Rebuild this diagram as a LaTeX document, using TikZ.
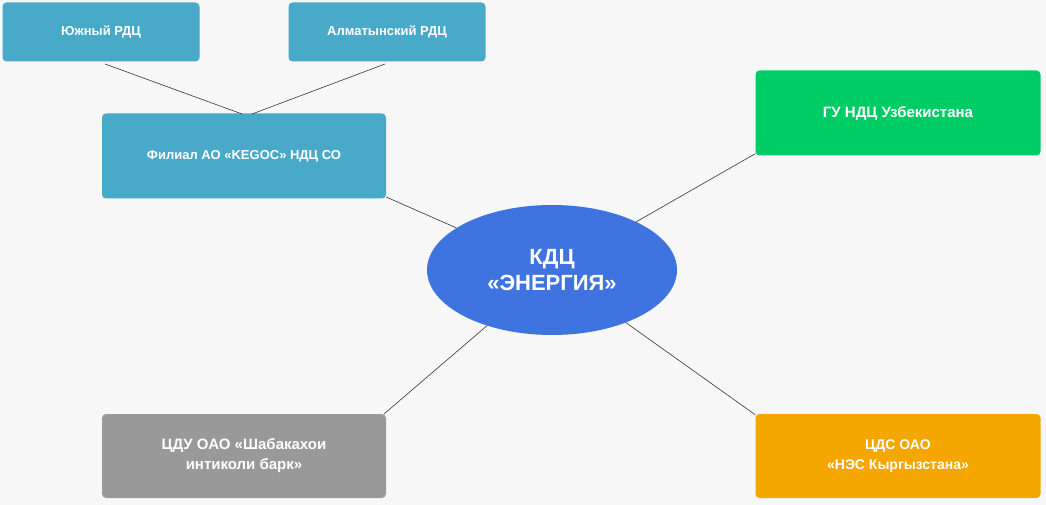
\documentclass[tikz,border=0pt]{standalone}
\usepackage{fontspec}
\setmainfont{Liberation Sans}
\usetikzlibrary{shapes.geometric}
\definecolor{teal}{HTML}{48AAC8}
\definecolor{grn}{HTML}{00CC66}
\definecolor{blu}{HTML}{3F74E0}
\definecolor{gry}{HTML}{999999}
\definecolor{org}{HTML}{F5A700}
\begin{document}
\begin{tikzpicture}[x=1pt,y=-1pt,
box/.style={rounded corners=4pt,draw=none,text=white,font=\bfseries\fontsize{13}{16}\selectfont,align=center,inner sep=0pt},
ln/.style={draw=black!80,line width=0.6pt}]
\fill[white!97!black] (0,0) rectangle (1046,505);
\useasboundingbox (0,0) rectangle (1046,505);
\node[box,fill=teal,minimum width=197pt,minimum height=59pt] (a) at (101,32) {Южный РДЦ};
\node[box,fill=teal,minimum width=197pt,minimum height=59pt] (b) at (387,32) {Алматынский РДЦ};
\node[box,fill=teal,minimum width=284pt,minimum height=85pt] (f) at (244,156) {Филиал АО «KEGOC» НДЦ СО};
\node[ellipse,fill=blu,text=white,font=\bfseries\fontsize{22}{26}\selectfont,align=center,minimum width=250pt,minimum height=130pt,inner sep=0pt] (c) at (552,270) {КДЦ\\«ЭНЕРГИЯ»};
\node[box,fill=grn,minimum width=285pt,minimum height=85pt,font=\bfseries\fontsize{15}{18}\selectfont] (u) at (898,113) {ГУ НДЦ Узбекистана};
\node[box,fill=gry,minimum width=284pt,minimum height=84pt,font=\bfseries\fontsize{15}{20}\selectfont] (t) at (244,456) {ЦДУ ОАО «Шабакахои\\интиколи барк»};
\node[box,fill=org,minimum width=285pt,minimum height=84pt,font=\bfseries\fontsize{14}{20}\selectfont] (k) at (898,456) {ЦДС ОАО\\«НЭС Кыргызстана»};
\coordinate (a1) at (105,64); \coordinate (a2) at (242,114);
\coordinate (b1) at (385,64); \coordinate (b2) at (252,114);
\draw[ln] (a1) -- (a2);
\draw[ln] (b1) -- (b2);
\draw[ln] (f.east |- 0,197) -- (c);
\draw[ln] (u.south west) ++(0,-2) coordinate (u1) (u1) -- (c);
\draw[ln] (t.north east) ++(-2,0) coordinate (t1) (t1) -- (c);
\draw[ln] (k.north west) ++(0,1) coordinate (k1) (k1) -- (c);
\end{tikzpicture}
\end{document}
